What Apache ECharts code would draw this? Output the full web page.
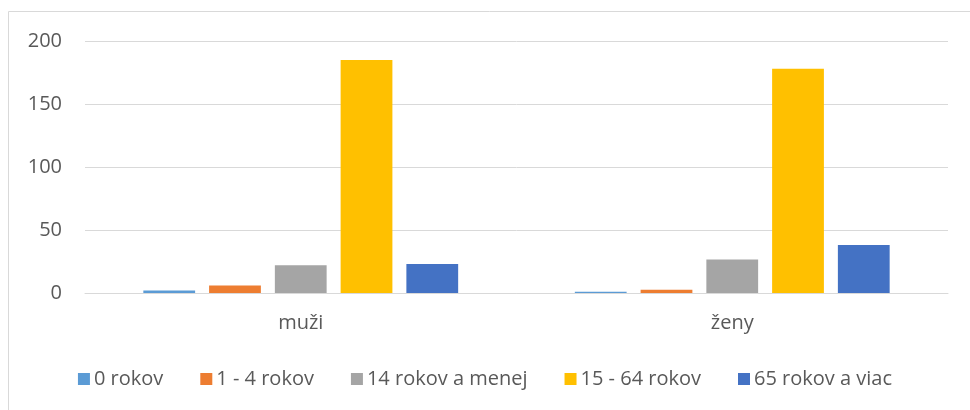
<!DOCTYPE html>
<html><head><meta charset="utf-8">
<script src="https://cdn.jsdelivr.net/npm/echarts@6/dist/echarts.min.js"></script>
<style>html,body{margin:0;padding:0;background:#fff}#c{width:970px;height:410px}</style>
</head><body><div id="c"></div>
<script>
const categories = ['muži', 'ženy'];
const seriesNames = ['0 rokov', '1 - 4 rokov', '14 rokov a menej', '15 - 64 rokov', '65 rokov a viac'];
const v0 = [2, 1];
const v1to4 = [6, 2.5];
const v14less = [22, 26.5];
const v15to64 = [185, 178];
const v65plus = [23, 38];
const colors = ['#5B9BD5', '#ED7D31', '#A5A5A5', '#FFC000', '#4472C4'];
const yTicks = [0, 50, 100, 150, 200];

const values = [v0, v1to4, v14less, v15to64, v65plus];
const font = 'Open Sans';
const chart = echarts.init(document.getElementById('c'));
chart.setOption({
  animation: false,
  color: colors,
  graphic: [{type: 'rect', shape: {x: 8.5, y: 11.5, width: 1000, height: 1000}, style: {fill: 'none', stroke: '#d9d9d9', lineWidth: 1}, z: -1}],
  grid: {left: 85, right: 22, top: 41, bottom: 117},
  legend: {
    bottom: 16, left: 'center', itemWidth: 12, itemHeight: 12, itemGap: 37, icon: 'rect',
    textStyle: {color: '#595959', fontSize: 20, fontFamily: font, padding: [0, 0, 0, -1]},
    data: seriesNames
  },
  xAxis: {
    type: 'category', data: categories,
    axisLine: {lineStyle: {color: '#d9d9d9', width: 1}},
    axisTick: {show: false},
    axisLabel: {color: '#595959', fontSize: 20, fontFamily: font, margin: 20}
  },
  yAxis: {
    type: 'value', min: yTicks[0], max: yTicks[yTicks.length - 1], interval: 50,
    axisLine: {show: false}, axisTick: {show: false},
    splitLine: {lineStyle: {color: '#d9d9d9', width: 1}},
    axisLabel: {color: '#595959', fontSize: 20, fontFamily: font, margin: 23}
  },
  series: seriesNames.map((n, i) => ({
    name: n, type: 'bar', data: values[i], barWidth: '12%', barGap: '27%',
    itemStyle: {color: colors[i]}
  }))
});
</script></body></html>
